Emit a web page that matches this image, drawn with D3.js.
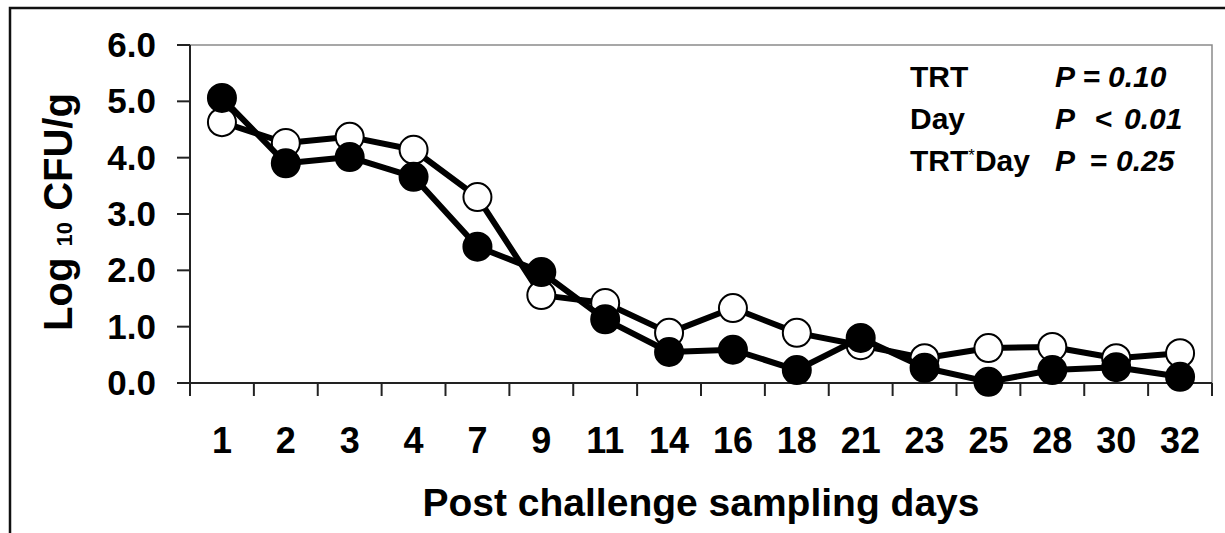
<!DOCTYPE html>
<html>
<head>
<meta charset="utf-8">
<script src="https://cdn.jsdelivr.net/npm/d3@7"></script>
<style>
  body { margin: 0; background: #fff; }
  text { font-family: "Liberation Sans", Arial, sans-serif; font-weight: bold; fill: #000; }
</style>
</head>
<body>
<svg id="chart" width="1225" height="533"></svg>
<script>
const days = ['1', '2', '3', '4', '7', '9', '11', '14', '16', '18', '21', '23', '25', '28', '30', '32']
// open circles
const openValues = [4.63, 4.26, 4.37, 4.14, 3.30, 1.56, 1.42, 0.89, 1.33, 0.89, 0.67, 0.44, 0.62, 0.64, 0.44, 0.53]
// filled circles
const filledValues = [5.06, 3.90, 4.01, 3.66, 2.42, 1.97, 1.13, 0.55, 0.59, 0.23, 0.80, 0.27, 0.02, 0.23, 0.28, 0.11]
const yTicks = [0, 1, 2, 3, 4, 5, 6]
const statRows = [
  {term: 'TRT', op: '=', p: '0.10'},
  {term: 'Day', op: '<', p: '0.01'},
  {term: 'TRT*Day', op: '=', p: '0.25'}
]

const svg = d3.select('#chart')
const plotLeft = 190, plotRight = 1212, plotTop = 45, plotBottom = 383

const x = d3.scaleBand().domain(days).range([plotLeft, plotRight]).padding(0)
const y = d3.scaleLinear().domain([0, 6]).range([plotBottom, plotTop])

// outer border (top + left only, right edge is cut)
svg.append('path')
   .attr('d', 'M10,533 L10,8 L1225,8')
   .attr('fill', 'none')
   .attr('stroke', '#111')
   .attr('stroke-width', 2.5)

// plot frame top/right
svg.append('path')
   .attr('d', `M${plotLeft},${plotTop} L${plotRight},${plotTop} L${plotRight},${plotBottom}`)
   .attr('fill', 'none')
   .attr('stroke', '#8a8a8a')
   .attr('stroke-width', 1.5)

// y axis
const yAxis = svg.append('g')
yAxis.append('line')
     .attr('x1', plotLeft).attr('x2', plotLeft)
     .attr('y1', plotTop).attr('y2', plotBottom)
     .attr('stroke', '#222').attr('stroke-width', 2)
yAxis.selectAll('line.ytick').data(yTicks).enter().append('line')
     .attr('class', 'ytick')
     .attr('x1', plotLeft - 13).attr('x2', plotLeft)
     .attr('y1', d => y(d)).attr('y2', d => y(d))
     .attr('stroke', '#222').attr('stroke-width', 2)
yAxis.selectAll('text').data(yTicks).enter().append('text')
     .attr('x', 156)
     .attr('y', d => y(d) + 12)
     .attr('text-anchor', 'end')
     .style('font-size', '35px')
     .text(d => d.toFixed(1))

// x axis: ticks at band edges
const xAxis = svg.append('g')
xAxis.append('line')
     .attr('x1', plotLeft - 13).attr('x2', plotRight)
     .attr('y1', plotBottom).attr('y2', plotBottom)
     .attr('stroke', '#222').attr('stroke-width', 2)
const edges = days.map(d => x(d)).concat([x(days[days.length-1]) + x.bandwidth()])
xAxis.selectAll('line.xtick').data(edges).enter().append('line')
     .attr('class', 'xtick')
     .attr('x1', d => d).attr('x2', d => d)
     .attr('y1', plotBottom).attr('y2', plotBottom + 13)
     .attr('stroke', '#222').attr('stroke-width', 2)
xAxis.selectAll('text').data(days).enter().append('text')
     .attr('x', d => x(d) + x.bandwidth()/2)
     .attr('y', 453)
     .attr('text-anchor', 'middle')
     .style('font-size', '36px')
     .text(d => d)

// axis titles
svg.append('text')
   .attr('x', (plotLeft+plotRight)/2)
   .attr('y', 516)
   .attr('text-anchor', 'middle')
   .style('font-size', '39px')
   .text('Post challenge sampling days')

const yLabel = svg.append('text')
   .attr('transform', 'translate(72,212) rotate(-90)')
   .attr('text-anchor', 'middle')
   .style('font-size', '40px')
yLabel.append('tspan').text('Log ')
yLabel.append('tspan').style('font-size', '22px').text('10')
yLabel.append('tspan').text(' CFU/g')

// series
const line = d3.line().x((d, i) => x(days[i]) + x.bandwidth()/2).y(d => y(d))
const drawSeries = (values, fill) => {
  const g = svg.append('g')
  g.append('path')
   .datum(values)
   .attr('d', line)
   .attr('fill', 'none')
   .attr('stroke', '#000')
   .attr('stroke-width', 6)
   .attr('stroke-linejoin', 'round')
  g.selectAll('circle').data(values).enter().append('circle')
   .attr('cx', (d, i) => x(days[i]) + x.bandwidth()/2)
   .attr('cy', d => y(d))
   .attr('r', 14)
   .attr('fill', fill)
   .attr('stroke', '#000')
   .attr('stroke-width', 2)
}
drawSeries(openValues, '#fff')
drawSeries(filledValues, '#000')

// statistics box
const stats = svg.append('g').style('font-size', '30px')
statRows.forEach((r, i) => {
  const yy = 87 + i*42
  const term = stats.append('text').attr('x', 910).attr('y', yy)
  if (r.term.includes('*')) {
    term.append('tspan').text('TRT')
    term.append('tspan').style('font-size', '17px').style('font-weight', 'normal').attr('dy', -10).text('*')
    term.append('tspan').attr('dy', 10).text('Day')
  } else term.text(r.term)
  stats.append('text').attr('x', 1055).attr('y', yy).style('font-style', 'italic').text('P')
  const opX = [1083, 1095, 1090][i], numX = [1108, 1124, 1116][i]
  stats.append('text').attr('x', opX).attr('y', yy).text(r.op)
  stats.append('text').attr('x', numX).attr('y', yy).style('font-style', 'italic').text(r.p)
})
</script>
</body>
</html>
